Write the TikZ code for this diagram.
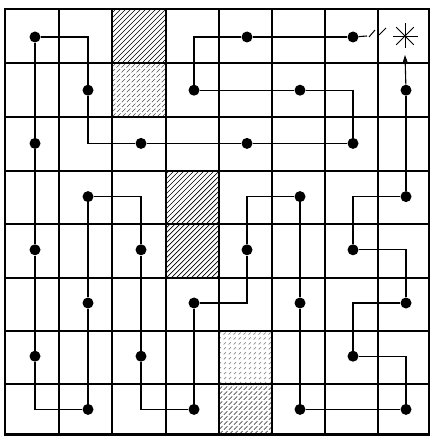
\documentclass[tikz,border=0pt]{standalone}
\usetikzlibrary{arrows.meta}
\newcommand\hatchcell[5]{%
  \begin{scope}
    \clip (#1,#2) rectangle (#3,#4);
    \foreach \k in {-65,-60,...,60} \draw[#5] ({#1+\k},#4) -- ++(64,-64);
  \end{scope}}
\begin{document}
\begin{tikzpicture}[x=1pt,y=-1pt,
  dot/.style={circle,fill=black,inner sep=0pt,minimum size=11pt},
  route/.style={line width=1.1pt},
  gridline/.style={line width=2.6pt,line cap=rect},
  hatchdark/.style={line width=0.7pt,black},
  hatchmid/.style={line width=0.7pt,black!70,dash pattern=on 5pt off 2pt},
  hatchfaint/.style={line width=0.7pt,black!45,dash pattern=on 3pt off 4pt},
  spoke/.style={line width=0.9pt}]
\useasboundingbox (0,0) rectangle (430,436);
% hatched cells
\hatchcell{112}{9}{166}{63}{hatchdark}
\hatchcell{112}{63}{166}{117}{hatchmid}
\hatchcell{166}{171}{219}{224}{hatchdark}
\hatchcell{166}{224}{219}{278}{hatchdark}
\hatchcell{219}{331}{272}{384}{hatchfaint}
\hatchcell{219}{384}{272}{434.5}{hatchmid}
% grid
\foreach \x in {5,59,112,166,219,272,325,378,429} \draw[gridline] (\x,9) -- (\x,434.5);
\foreach \y in {9,63,117,171,224,278,331,384,434.5} \draw[gridline] (5,\y) -- (429,\y);
% dots
\foreach \r/\c in {0/0,0/4,0/6,1/1,1/3,1/5,1/7,2/0,2/2,2/4,2/6,3/1,3/5,3/7,4/0,4/2,4/4,4/6,5/1,5/3,5/5,5/7,6/0,6/2,6/6,7/1,7/3,7/5,7/7}
  \node[dot] (d\r\c) at ({35+53*\c},{37+53.2*\r}) {};
% route
\draw[route] (d06) -- (d04) -| (d13) -- (d15) -| (d26) -- (d24) -- (d22) -| (d11) |- (d00)
  -- (d20) -- (d40) -- (d60) |- (d71) -- (d51) -- (d31) -| (d42) -- (d62) |- (d73)
  -- (d53) -| (d44) |- (d35) -- (d55) -- (d75) -- (d77) |- (d66) |- (d57) |- (d46) |- (d37) -- (d17);
% star
\coordinate (star) at (405,36);
\foreach \a in {0,45,...,315} \draw[spoke] (star) -- ++(\a:12.5);
% arrow to star
\coordinate (arrowtip) at (405,55);
\draw[route,-{Stealth[length=9pt,width=6pt]}] (d17) -- (arrowtip);
% broken move
\coordinate (brk) at (367,36);
\draw[route] (d06) -- (brk);
\draw[line width=1pt] (369,37) -- (375,30);
\draw[line width=1pt] (379,35) -- (386,28);
\end{tikzpicture}
\end{document}
